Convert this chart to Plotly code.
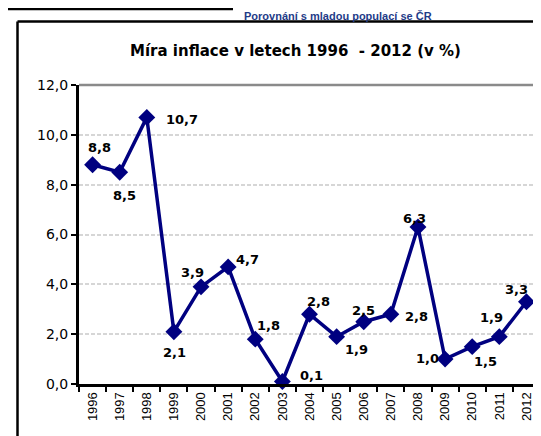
import plotly.graph_objects as go

years = [str(y) for y in range(1996, 2013)]
inflation = [8.8, 8.5, 10.7, 2.1, 3.9, 4.7, 1.8, 0.1, 2.8, 1.9, 2.5, 2.8, 6.3, 1.0, 1.5, 1.9, 3.3]
value_labels = ["8,8", "8,5", "10,7", "2,1", "3,9", "4,7", "1,8", "0,1", "2,8", "1,9",
                "2,5", "2,8", "6,3", "1,0", "1,5", "1,9", "3,3"]
y_ticks = [0, 2, 4, 6, 8, 10, 12]
y_tick_labels = ["0,0", "2,0", "4,0", "6,0", "8,0", "10,0", "12,0"]

title_text = "Míra inflace v letech 1996  - 2012 (v %)"
header_text = "Porovnání s mladou populací se ČR"

# label offsets in pixels (dx right, dy down) - styling only
label_dx = [7, 5, 35, 1, -9, 19, 13, 29, 9, 20, 0, 26, -3, -18, 13, -8, -10]
label_dy = [-17, 23, 2, 21, -14, -7, -14, -6, -13, 13, -11, 2, -9, -1, 15, -19, -12]

W, H = 541, 436
L, R, T, B = 71, 532, 77, 376

def px(x):
    return (x - L) / (R - L)

def py(y):
    return (B - y) / (B - T)

fig = go.Figure()
fig.add_trace(go.Scatter(
    x=years, y=inflation, mode="lines+markers",
    line=dict(color="#000080", width=3.5),
    marker=dict(symbol="diamond", size=13, color="#000080"),
    cliponaxis=False, hoverinfo="skip", showlegend=False,
))

annotations = []
for i, (v, lab, dx, dy) in enumerate(zip(inflation, value_labels, label_dx, label_dy)):
    annotations.append(dict(
        x=i, y=v, xref="x", yref="y", text=lab, showarrow=False,
        xanchor="center", yanchor="middle", xshift=dx, yshift=-dy,
        font=dict(family="DejaVu Sans", size=13, color="#000000", weight="bold"),
    ))

annotations.append(dict(
    x=0.5, y=py(43), xref="paper", yref="paper", text=title_text, showarrow=False,
    xanchor="center", yanchor="middle", xshift=(287 - (L + R) / 2),
    font=dict(family="DejaVu Sans", size=15, color="#000000", weight="bold"),
))
annotations.append(dict(
    x=px(234), y=py(0), xref="paper", yref="paper", text=header_text, showarrow=False,
    xanchor="left", yanchor="top",
    font=dict(family="Liberation Sans", size=11, color="#1F3C88", weight="bold"),
))

shapes = [
    # header rule
    dict(type="line", xref="paper", yref="paper", x0=px(0), x1=px(225), y0=py(1), y1=py(1),
         line=dict(color="#000000", width=2.5)),
    # outer frame
    dict(type="line", xref="paper", yref="paper", x0=px(9.5), x1=px(560), y0=py(13.5), y1=py(13.5),
         line=dict(color="#000000", width=2.5)),
    dict(type="line", xref="paper", yref="paper", x0=px(9.5), x1=px(9.5), y0=py(13.5), y1=py(460),
         line=dict(color="#000000", width=2.5)),
    # plot area top & right border
    dict(type="line", xref="paper", yref="paper", x0=0, x1=1, y0=1, y1=1,
         line=dict(color="#8a8a8a", width=2.5)),
    dict(type="line", xref="paper", yref="paper", x0=1, x1=1, y0=0, y1=1,
         line=dict(color="#8a8a8a", width=2.5)),
]

fig.update_layout(
    width=W, height=H,
    margin=dict(l=L, r=W - R, t=T, b=H - B),
    paper_bgcolor="#ffffff", plot_bgcolor="#ffffff",
    annotations=annotations, shapes=shapes,
    showlegend=False,
)
fig.update_xaxes(
    type="category", range=[-0.5, 16.5],
    showline=True, linecolor="#000000", linewidth=3,
    ticks="outside", tickson="boundaries", ticklen=5, tickwidth=2, tickcolor="#000000",
    tickangle=-90, showgrid=False, zeroline=False,
    tickfont=dict(family="Liberation Sans Narrow, Liberation Sans", size=13, color="#000000"),
)
fig.update_yaxes(
    range=[0, 12], tickvals=y_ticks, ticktext=y_tick_labels,
    showline=True, linecolor="#000000", linewidth=3,
    ticks="outside", ticklen=5, tickwidth=2, tickcolor="#000000",
    showgrid=True, gridcolor="#d6d6d6", gridwidth=2, griddash="4px,2px",
    zeroline=False,
    tickfont=dict(family="DejaVu Sans", size=14, color="#000000"),
)

fig.write_html("out.html")
